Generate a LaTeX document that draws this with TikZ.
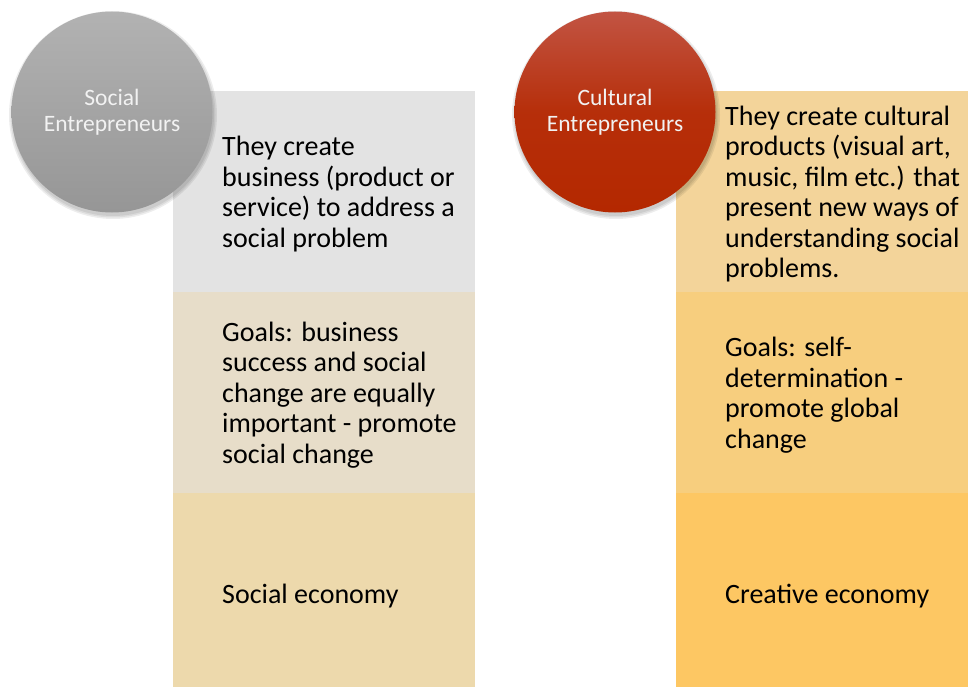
\documentclass[tikz,border=0pt]{standalone}
\usepackage{fontspec}
\setmainfont{Carlito}
\definecolor{lgA}{HTML}{E3E3E3}
\definecolor{lgB}{HTML}{E7DDC9}
\definecolor{lgC}{HTML}{EDD9AC}
\definecolor{rgA}{HTML}{F3D49A}
\definecolor{rgB}{HTML}{F7CE7E}
\definecolor{rgC}{HTML}{FDC763}
\definecolor{grayTop}{HTML}{B2B2B2}
\definecolor{grayBot}{HTML}{969696}
\definecolor{redTop}{HTML}{C25443}
\definecolor{redBot}{HTML}{B42800}
\tikzset{
  bodytext/.style={align=left, anchor=west, inner sep=0pt, font=\fontsize{28}{30.5}\selectfont, text=black},
  circ/.style={circle, minimum size=201pt, inner sep=0pt, text=white!95!black, align=center,
    font=\fontsize{23.5}{26}\selectfont},
  shade1/.style={fill=black, fill opacity=0.07, draw=none},
}
\begin{document}
\begin{tikzpicture}[x=1pt,y=-1pt]
\useasboundingbox (0,0) rectangle (968,687);
% left column
\fill[lgA] (173,91) rectangle (475,292);
\fill[lgB] (173,292) rectangle (475,493);
\fill[lgC] (173,493) rectangle (475,687);
% right column
\fill[rgA] (676,91) rectangle (968,292);
\fill[rgB] (676,292) rectangle (968,493);
\fill[rgC] (676,493) rectangle (968,687);
% texts
\node[bodytext] (l1) at (222,194) {They create\\business (product or\\service) to address a\\social problem};
\node[bodytext] (l2) at (222,395) {Goals: business\\success and social\\change are equally\\important - promote\\social change};
\node[bodytext] (l3) at (222,596) {Social economy};
\node[bodytext] (r1) at (725,194) {They create cultural\\products (visual art,\\music, film etc.) that\\present new ways of\\understanding social\\problems.};
\node[bodytext] (r2) at (725,395) {Goals: self-\\determination -\\promote global\\change};
\node[bodytext] (r3) at (725,596) {Creative economy};
% soft shadows
\foreach \cx in {112,615}{
  \foreach \r in {104,102.5,101}{
    \fill[shade1] (\cx+1,115) circle (\r);
  }
}
% circles
\node[circ, top color=grayTop, bottom color=grayBot] (soc) at (112,112) {Social\\Entrepreneurs};
\node[circ, top color=redTop, bottom color=redBot, middle color=redBot!85!redTop] (cul) at (615,112) {Cultural\\Entrepreneurs};
\end{tikzpicture}
\end{document}
